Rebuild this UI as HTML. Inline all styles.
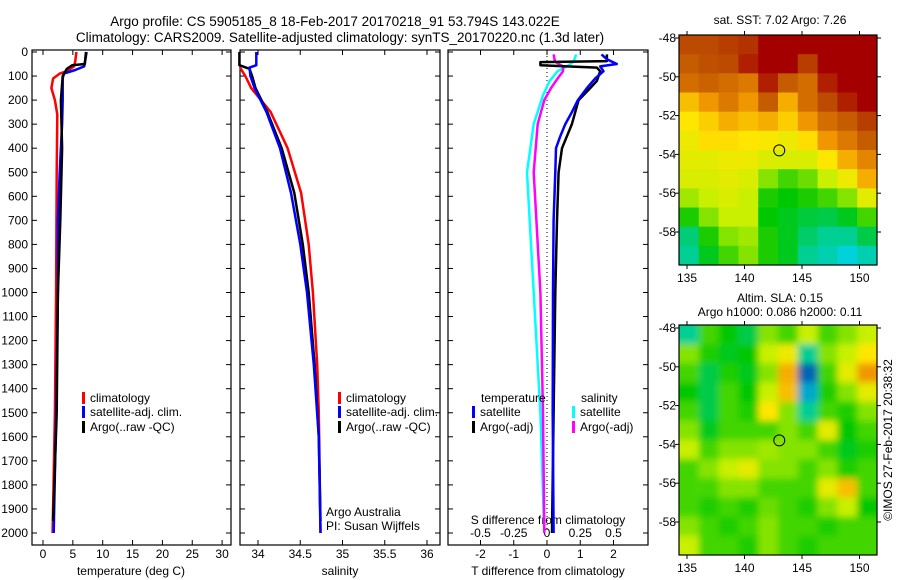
<!DOCTYPE html>
<html><head><meta charset="utf-8"><style>
body{margin:0;background:#fff}
svg{display:block;font-family:"Liberation Sans",sans-serif}
</style></head><body>
<svg id="c" width="900" height="580" viewBox="0 0 900 580">
<text x="335" y="26" font-size="13.5" text-anchor="middle">Argo profile: CS 5905185_8 18-Feb-2017 20170218_91 53.794S 143.022E</text>
<text x="340" y="42" font-size="13.5" text-anchor="middle">Climatology: CARS2009. Satellite-adjusted climatology: synTS_20170220.nc (1.3d later)</text>
<g id="g"></g>
<text transform="translate(892,440) rotate(-90)" font-size="12" text-anchor="middle">©IMOS 27-Feb-2017 20:38:32</text>
</svg>
<script>
// ---- profile data ----
const depthTicks=[0,100,200,300,400,500,600,700,800,900,1000,1100,1200,1300,1400,1500,1600,1700,1800,1900,2000];
const tempTicks=[0,5,10,15,20,25,30];
const salTicks=[34,34.5,35,35.5,36];
const tdiffTicks=[-2,-1,0,1,2];
const sdiffTicks=[-0.5,-0.25,0,0.25,0.5];
const tClimD=[0,40,60,80,90,110,150,200,260,500,1000,1500,2000];
const tClim=[5.6,5.4,5.2,4.0,2.8,1.7,1.4,2.0,2.4,2.3,2.2,2.0,1.6];
const tSatD=[0,60,75,90,110,200,300,500,700,1000,1500,2000];
const tSat=[7.3,6.9,5.4,3.5,3.3,3.3,3.2,2.8,2.5,2.5,2.2,1.8];
const tArgoD=[0,50,55,70,100,200,400,700,1000,1500,1950];
const tArgo=[7.2,7.0,4.9,4.0,3.3,3.0,3.2,2.9,2.5,2.3,1.7];
const sClimD=[67,100,150,250,400,586,800,1000,1300,1500,2000];
const sClim=[33.79,33.85,33.92,34.15,34.35,34.51,34.6,34.65,34.7,34.72,34.74];
const sSatD=[0,55,65,100,150,250,400,586,800,1000,1300,1600,2000];
const sSat=[33.98,33.98,33.9,33.91,33.96,34.1,34.26,34.39,34.5,34.58,34.66,34.72,34.74];
const sArgoD=[0,55,70,100,150,250,400,586,800,1000,1300,1600,1950];
const sArgo=[33.78,33.78,33.9,33.93,33.97,34.11,34.28,34.43,34.53,34.6,34.67,34.72,34.74];
const dTSatD=[10,30,50,60,80,110,150,200,250,300,350,400,500,700,1000,1500,2000];
const dTSat=[1.64,1.8,2.1,1.6,1.7,1.45,1.2,0.93,0.75,0.55,0.4,0.27,0.25,0.2,0.18,0.17,0.2];
const dTArgoD=[10,38,42,55,65,80,120,150,200,300,400,500,700,1000,1500,2000];
const dTArgo=[1.8,1.8,-0.2,-0.2,1.5,1.6,1.5,1.3,0.95,0.75,0.45,0.35,0.3,0.25,0.2,0.15];
const dSSatD=[10,40,60,80,120,180,300,500,1000,1500,2000];
const dSSat=[0.22,0.2,0.15,0.08,0.02,-0.03,-0.1,-0.15,-0.1,-0.05,-0.02];
const dSArgoD=[10,40,60,80,110,150,200,300,500,700,1000,1500,2000];
const dSArgo=[0.05,0.06,0.12,0.12,0.08,0.03,-0.02,-0.07,-0.1,-0.08,-0.05,-0.03,-0.02];
// ---- map data (rows north->south, cols west->east), normalized 0..1 ----
const sstGrid=[
[.88,.88,.9,.92,1,1,1,1,1,1],
[.85,.87,.88,.95,1,1,.9,1,1,1],
[.82,.84,.82,.8,.95,.85,.82,.95,1,1],
[.7,.75,.8,.75,.85,.72,.82,.88,.95,1],
[.65,.68,.72,.7,.72,.68,.75,.82,.85,.9],
[.62,.66,.66,.65,.64,.62,.66,.75,.8,.85],
[.6,.6,.62,.62,.58,.58,.58,.65,.72,.78],
[.58,.58,.6,.58,.5,.45,.48,.55,.62,.72],
[.52,.55,.58,.55,.42,.4,.42,.45,.5,.6],
[.42,.5,.55,.55,.4,.38,.36,.35,.38,.45],
[.32,.42,.5,.52,.42,.38,.33,.3,.3,.35],
[.3,.38,.45,.5,.42,.38,.3,.28,.25,.28]];
const slaGrid=[
[.3,.45,.4,.35,.5,.45,.55,.45,.5,.55],
[.5,.42,.38,.4,.55,.62,.3,.5,.55,.65],
[.45,.35,.42,.38,.5,.72,.12,.45,.6,.75],
[.4,.35,.45,.4,.55,.7,.2,.42,.5,.6],
[.45,.35,.45,.42,.65,.5,.3,.45,.42,.5],
[.5,.38,.45,.45,.45,.5,.45,.6,.4,.45],
[.55,.45,.5,.5,.52,.5,.5,.45,.38,.42],
[.45,.5,.55,.6,.5,.5,.45,.5,.42,.45],
[.45,.45,.5,.5,.45,.45,.45,.6,.7,.45],
[.45,.42,.45,.42,.48,.45,.42,.5,.55,.4],
[.5,.45,.42,.45,.5,.45,.45,.42,.45,.45],
[.55,.45,.45,.42,.5,.45,.42,.45,.45,.45]];
const latTicks=[-48,-50,-52,-54,-56,-58];
const lonTicks=[135,140,145,150];
const argoLat=-53.794, argoLon=143.022;

const NS='http://www.w3.org/2000/svg', G=document.getElementById('g');
function el(t,a,p){const e=document.createElementNS(NS,t);for(const k in a)e.setAttribute(k,a[k]);(p||G).appendChild(e);return e;}
function txt(x,y,s,a,p){const e=el('text',Object.assign({x:x,y:y,'font-size':12},a||{}),p);e.textContent=s;return e;}
const yD=d=>52+d*0.2405;
const panels=[{x0:32,x1:231},{x0:240,x1:440},{x0:448,x1:648}];
const xT=v=>43+v*5.97, xS=v=>258+(v-34)*84.5, xTd=v=>547+v*33.25, xSd=v=>547+v*133;
panels.forEach((p,i)=>{
  const r=el('rect',{x:p.x0,y:50,width:p.x1-p.x0,height:495,fill:'none',stroke:'#000','stroke-width':1.2});
  
  
  depthTicks.forEach(d=>{
    el('line',{x1:p.x0,x2:p.x0+5,y1:yD(d),y2:yD(d),stroke:'#000'});
    el('line',{x1:p.x1,x2:p.x1-5,y1:yD(d),y2:yD(d),stroke:'#000'});
    if(i==0){const t=txt(28,yD(d)+4,String(d),{'text-anchor':'end'});}
  });
});
function xticks(arr,f,yb,lab){arr.forEach(v=>{const x=f(v);el('line',{x1:x,x2:x,y1:545,y2:540,stroke:'#000'});el('line',{x1:x,x2:x,y1:50,y2:55,stroke:'#000'});if(lab){const t=txt(x,yb,String(v),{'text-anchor':'middle'});}});}
xticks(tempTicks,xT,558,true);
xticks(salTicks,xS,558,true);
xticks(tdiffTicks,xTd,558,true);
sdiffTicks.forEach(v=>{const t=txt(xSd(v),537,v==0?'0':(v<0?'-':'')+Math.abs(v),{'text-anchor':'middle'});});
[['temperature (deg C)',131],['salinity',340],['T difference from climatology',548]].forEach(([s,x])=>{const t=txt(x,575,s,{'text-anchor':'middle'});});
{const t=txt(548,524,'S difference from climatology',{'text-anchor':'middle'});}
el('line',{x1:547,x2:547,y1:52,y2:532,stroke:'#000','stroke-dasharray':'1,3'});
function line(D,V,f,c,name,w){const pts=D.map((d,i)=>f(V[i]).toFixed(1)+','+yD(d).toFixed(1)).join(' ');const e=el('polyline',{points:pts,fill:'none',stroke:c,'stroke-width':w||2.5,'stroke-linejoin':'round'});}
line(tClimD,tClim,xT,'#f00','temp-climatology-line');
line(tSatD,tSat,xT,'#00f','temp-satellite-line');
line(tArgoD,tArgo,xT,'#000','temp-argo-line');
line(sClimD,sClim,xS,'#f00','sal-climatology-line');
line(sArgoD,sArgo,xS,'#000','sal-argo-line');
line(sSatD,sSat,xS,'#00f','sal-satellite-line');
line(dSSatD,dSSat,xSd,'#0ff','sdiff-satellite-line');
line(dSArgoD,dSArgo,xSd,'#f0f','sdiff-argo-line');
line(dTArgoD,dTArgo,xTd,'#000','tdiff-argo-line');
line(dTSatD,dTSat,xTd,'#00f','tdiff-satellite-line');
function leg(x,y,c,s,name){el('rect',{x:x,y:y-10,width:3,height:12,fill:c});const t=txt(x+8,y,s);}
leg(82,402,'#f00','climatology','legend-climatology');
leg(82,416,'#00f','satellite-adj. clim.','legend-satellite');
leg(82,431,'#000','Argo(..raw -QC)','legend-argo');
leg(338,402,'#f00','climatology','legend-climatology-2');
leg(338,416,'#00f','satellite-adj. clim.','legend-satellite-2');
leg(338,431,'#000','Argo(..raw -QC)','legend-argo-2');
txt(481,402,'temperature');txt(581,402,'salinity');
leg(472,416,'#00f','satellite','legend-t-satellite');
leg(472,431,'#000','Argo(-adj)','legend-t-argo');
leg(572,416,'#0ff','satellite','legend-s-satellite');
leg(572,431,'#f0f','Argo(-adj)','legend-s-argo');
txt(326,516,'Argo Australia');txt(326,530,'PI: Susan Wijffels');
// ---- maps ----
const stops=[[0,[0,0,140]],[.25,[0,210,220]],[.4,[0,200,0]],[.55,[200,240,0]],[.65,[255,230,0]],[.75,[240,150,0]],[.87,[190,80,0]],[1,[165,0,0]]];
function cmap(v){for(let i=1;i<stops.length;i++){if(v<=stops[i][0]){const [a,ca]=stops[i-1],[b,cb]=stops[i];const t=(v-a)/(b-a);return 'rgb('+ca.map((c,k)=>Math.round(c+(cb[k]-c)*t)).join(',')+')';}}return 'rgb(165,0,0)';}
function map(y0,grid,name,title,blur){
  const x0=679,x1=877,y1=y0+230;
  const yL=l=>y0+3+(-48-l)*19.4, xL=l=>687+(l-135)*11.5;
  const cid='clip'+y0;const cp=el('clipPath',{id:cid});el('rect',{x:x0,y:y0,width:x1-x0,height:230},cp);
  const g=el('g',{'clip-path':'url(#'+cid+')'});
  if(blur){const f=el('filter',{id:'bl'+y0,x:'-10%',y:'-10%',width:'120%',height:'120%'});el('feGaussianBlur',{stdDeviation:3.5},f);}
  const gi=el('g',blur?{filter:'url(#bl'+y0+')'}:{},g);
  const rows=grid.length,cols=grid[0].length,cw=(x1-x0)/cols,ch=230/rows;
  grid.forEach((row,r)=>row.forEach((v,c)=>{const e=el('rect',{x:x0+c*cw-(blur&&c==0?10:0),y:y0+r*ch-(blur&&r==0?10:0),width:cw+(blur&&(c==0||c==cols-1)?10:0.5),height:ch+(blur&&(r==0||r==rows-1)?10:0.5),fill:cmap(v)},gi);}));
  const fr=el('rect',{x:x0,y:y0,width:x1-x0,height:230,fill:'none',stroke:'#000','stroke-width':1.2});
  
  latTicks.forEach(l=>{const y=yL(l);el('line',{x1:x0-4,x2:x0,y1:y,y2:y,stroke:'#000'});el('line',{x1:x1,x2:x1+4,y1:y,y2:y,stroke:'#000'});txt(x0-3,y+4,String(l),{'text-anchor':'end'});});
  lonTicks.forEach(l=>{const x=xL(l);el('line',{x1:x,x2:x,y1:y1,y2:y1+4,stroke:'#000'});el('line',{x1:x,x2:x,y1:y0,y2:y0-4,stroke:'#000'});txt(x,y1+17,String(l),{'text-anchor':'middle'});});
  const m=el('circle',{cx:xL(argoLon),cy:yL(argoLat),r:5.5,fill:'none',stroke:'#000'});
  
  title.forEach(([s,y])=>txt(780,y,s,{'text-anchor':'middle'}));
}
map(35,sstGrid,'sst-map',[['sat. SST: 7.02 Argo: 7.26',24]],false);
map(325,slaGrid,'sla-map',[['Altim. SLA: 0.15',302],['Argo h1000: 0.086 h2000: 0.11',316]],true);
</script>
</body></html>
